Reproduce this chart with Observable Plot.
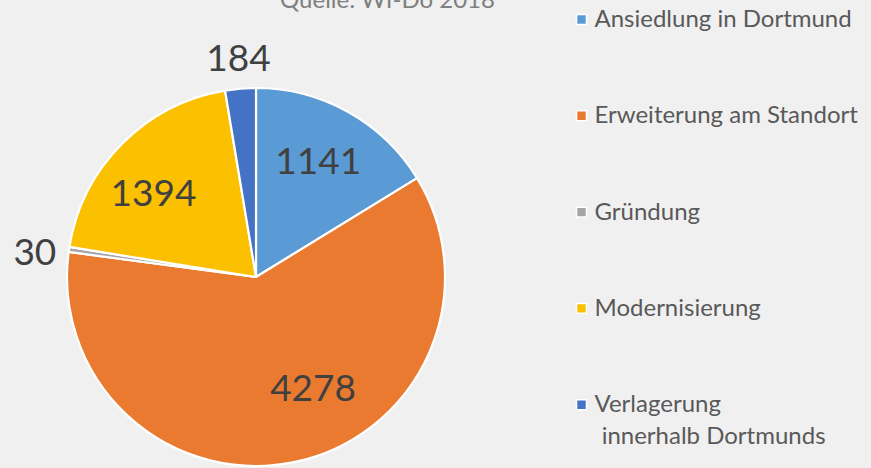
<!DOCTYPE html>
<html>
<head>
<meta charset="utf-8">
<script src="https://cdn.jsdelivr.net/npm/d3@7"></script>
<script src="https://cdn.jsdelivr.net/npm/@observablehq/plot@0.6"></script>
<style>
  html, body { margin: 0; padding: 0; background: #f0f0f0; overflow: hidden; }
  #chart svg { display: block; }
</style>
</head>
<body>
<div id="chart"></div>
<script>
// ---- data ----
const categories = ["Ansiedlung in Dortmund", "Erweiterung am Standort", "Gründung", "Modernisierung", "Verlagerung innerhalb Dortmunds"];
const values = [1141, 4278, 30, 1394, 184];
const legendLines = [["Ansiedlung in Dortmund"], ["Erweiterung am Standort"], ["Gründung"], ["Modernisierung"], ["Verlagerung", " innerhalb Dortmunds"]];
const colors = ["#5b9bd5", "#ea7a30", "#a5a5a5", "#fbc000", "#4472c4"];
const source = "Quelle: WI-Do 2018";

// ---- layout (styling, not data) ----
const W = 871, H = 468;
const cx = 256, cy = 277, R = 189;
const font = "Lato, 'Open Sans', sans-serif";
// label placement: radial fraction and angle shift (degrees) per slice
const labelPlace = [{r: 0.69, da: -1}, {r: 0.66, da: -15}, {r: 1.18, da: -2}, {r: 0.70, da: -6}, {r: 1.16, da: 0}];
const legendX = 581, legendY0 = 19, legendStep = 96.3;

const rows = categories.map((c, i) => ({category: c, value: values[i], color: colors[i]}));
const arcs = d3.pie().sort(null).value(d => d.value)(rows);
const toRad = Math.PI / 180;
const labels = arcs.map((a, i) => {
  const mid = (a.startAngle + a.endAngle) / 2 + labelPlace[i].da * toRad;
  const rr = R * labelPlace[i].r;
  return {x: cx + rr * Math.sin(mid), y: cy - rr * Math.cos(mid), text: String(a.data.value)};
});
const legend = categories.map((c, i) => ({category: c, color: colors[i], y: legendY0 + i * legendStep, lines: legendLines[i]}));
const legendText = legend.flatMap(d => d.lines.map((t, j) => ({text: t, y: d.y + j * 32, x: legendX + 13 + (j > 0 ? 1 : 0)})));

function pieMark(index, scales) {
  const g = d3.create("svg:g");
  const x0 = scales.x(cx), y0 = scales.y(cy);
  const rPx = scales.x(cx + R) - x0;
  const arcGen = d3.arc().innerRadius(0).outerRadius(rPx);
  g.selectAll("path").data(arcs).join("path")
    .attr("transform", `translate(${x0},${y0})`)
    .attr("d", arcGen)
    .attr("fill", d => d.data.color)
    .attr("stroke", "#ffffff")
    .attr("stroke-width", 2.2)
    .attr("stroke-linejoin", "round");
  return g.node();
}

const chart = Plot.plot({
  width: W, height: H,
  margin: 0,
  style: {background: "#f0f0f0", fontFamily: font},
  x: {domain: [0, W], range: [0, W], axis: null},
  y: {domain: [0, H], range: [0, H], axis: null},
  marks: [
    pieMark,
    Plot.text(labels, {x: "x", y: "y", text: "text", fontSize: 37, fill: "#404040", textAnchor: "middle", lineAnchor: "middle"}),
    Plot.text([source], {x: () => 387, y: () => 7, text: d => d, fontSize: 24, fill: "#7f7f7f", textAnchor: "middle", lineAnchor: "bottom"}),
    Plot.dot(legend, {x: () => legendX, y: "y", symbol: "square", r: 5.6, fill: "color", stroke: "#ffffff", strokeWidth: 1.5}),
    Plot.text(legendText, {x: "x", y: "y", text: "text", fontSize: 24, fill: "#595959", textAnchor: "start", lineAnchor: "middle"})
  ]
});
document.getElementById("chart").appendChild(chart);
</script>
</body>
</html>
